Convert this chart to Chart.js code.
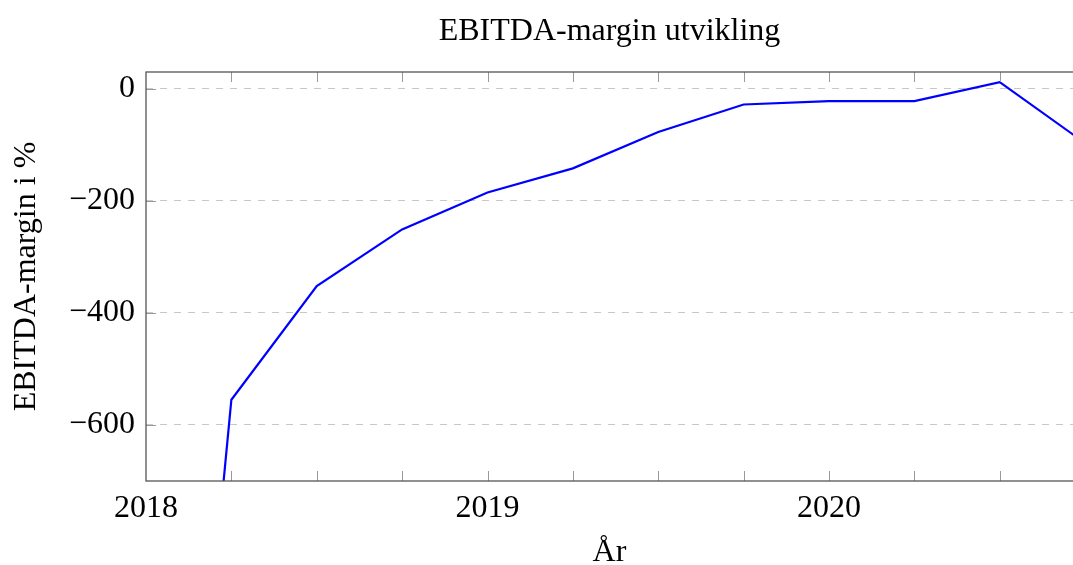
<!DOCTYPE html>
<html>
<head>
<meta charset="utf-8">
<script src="https://cdn.jsdelivr.net/npm/chart.js@4/dist/chart.umd.min.js"></script>
<style>
  html, body { margin: 0; padding: 0; background: #fff; }
  #wrap { width: 1073px; height: 565px; }
</style>
</head>
<body>
<div id="wrap"><canvas id="ebitda-chart" width="1073" height="565"></canvas></div>
<script>
// quarters (as decimal years) and EBITDA-margin in %
const quarters = [2018, 2018.25, 2018.5, 2018.75, 2019, 2019.25, 2019.5, 2019.75, 2020, 2020.25, 2020.5, 2020.75];
const margins = [-2150, -555, -352, -251, -185, -142, -77, -28, -22, -22, 12, -97];
const yearTicks = [2018, 2019, 2020];
const yTicks = [-600, -400, -200, 0];
const minorTicks = [2018.25, 2018.5, 2018.75, 2019, 2019.25, 2019.5, 2019.75, 2020, 2020.25, 2020.5];

const FONT = "'Liberation Serif', 'Times New Roman', serif";

const axisBox = {
  id: "axisBox",
  afterDraw(chart) {
    const { ctx, chartArea: a, scales } = chart;
    ctx.save();
    // tick marks inside the axis
    ctx.strokeStyle = "#999";
    ctx.lineWidth = 1;
    ctx.beginPath();
    minorTicks.forEach((q) => {
      const x = Math.round(scales.x.getPixelForValue(q)) + 0.5;
      ctx.moveTo(x, a.bottom);
      ctx.lineTo(x, a.bottom - 10);
      ctx.moveTo(x, a.top);
      ctx.lineTo(x, a.top + 10);
    });
    yTicks.forEach((v) => {
      const y = Math.round(scales.y.getPixelForValue(v)) + 0.5;
      ctx.moveTo(a.left, y);
      ctx.lineTo(a.left + 10, y);
    });
    ctx.stroke();
    // frame
    ctx.strokeStyle = "#555";
    ctx.lineWidth = 1.3;
    ctx.strokeRect(a.left, a.top, a.right - a.left + 2, a.bottom - a.top);
    // title, centred over the axis
    ctx.fillStyle = "#000";
    ctx.font = "32px " + FONT;
    ctx.textAlign = "center";
    ctx.textBaseline = "middle";
    ctx.fillText("EBITDA-margin utvikling", (a.left + a.right) / 2, 32);
    ctx.restore();
  },
};

const ctx = document.getElementById("ebitda-chart").getContext("2d");
window.myLine = new Chart(ctx, {
  type: "line",
  data: {
    datasets: [
      {
        label: "EBITDA-margin",
        data: quarters.map((q, i) => ({ x: q, y: margins[i] })),
        borderColor: "#0000ff",
        borderWidth: 2.2,
        pointRadius: 0,
        tension: 0,
        fill: false,
      },
    ],
  },
  options: {
    responsive: false,
    animation: false,
    devicePixelRatio: 1,
    layout: { padding: { top: 72, right: 0, bottom: 0, left: 0 } },
    plugins: { legend: { display: false }, tooltip: { enabled: false } },
    scales: {
      x: {
        type: "linear",
        min: 2018,
        max: 2018 + 927 / 341.5,
        afterBuildTicks: (s) => { s.ticks = yearTicks.map((v) => ({ value: v })); },
        afterFit: (s) => { s.height = 84; },
        grid: { display: false },
        border: { display: false },
        ticks: {
          color: "#000",
          font: { family: FONT, size: 32 },
          padding: 0,
          maxRotation: 0,
          autoSkip: false,
          callback: (v) => String(v),
        },
        title: {
          display: true,
          text: "År",
          color: "#000",
          font: { family: FONT, size: 32, lineHeight: 0.8 },
          padding: { top: 0, bottom: 0 },
        },
      },
      y: {
        min: -700,
        max: 30,
        afterBuildTicks: (s) => { s.ticks = yTicks.map((v) => ({ value: v })); },
        afterFit: (s) => { s.width = 146; },
        grid: { color: "#c8c8c8", lineWidth: 1, drawTicks: false },
        border: { display: false, dash: [7, 7] },
        ticks: {
          color: "#000",
          font: { family: FONT, size: 32 },
          padding: 11,
          callback: (v) => (v < 0 ? "\u2212" + Math.abs(v) : String(v)),
        },
        title: {
          display: true,
          text: "EBITDA-margin i %",
          color: "#000",
          font: { family: FONT, size: 32 },
          padding: { top: 7, bottom: 0 },
        },
      },
    },
  },
  plugins: [axisBox],
});
</script>
</body>
</html>
